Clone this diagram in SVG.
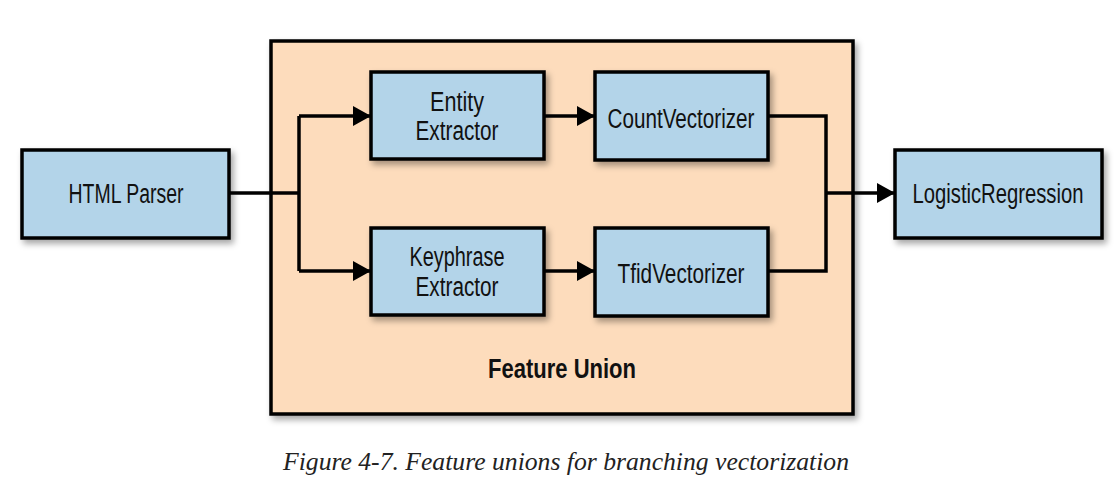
<svg xmlns="http://www.w3.org/2000/svg" width="1120" height="487" viewBox="0 0 1120 487">
<defs>
<filter id="sh" x="-10%" y="-10%" width="125%" height="130%">
<feDropShadow dx="3" dy="4" stdDeviation="3" flood-color="#000" flood-opacity="0.35"/>
</filter>
<marker id="ah" viewBox="0 0 18 20" refX="18" refY="10" markerWidth="18" markerHeight="20" markerUnits="userSpaceOnUse" orient="auto">
<path d="M0,0 L18,10 L0,20 Z" fill="#000"/>
</marker>
</defs>
<style>
.box{fill:#b3d4e9;stroke:#000;stroke-width:3.5}
.union{fill:#fddcbc;stroke:#000;stroke-width:3.5}
.lbl{font-family:"Liberation Sans",Arial,sans-serif;font-size:27px;fill:#111;text-anchor:middle}
.bold{font-weight:bold;font-size:28px}
.conn{fill:none;stroke:#000;stroke-width:3.5}
.cap{font-family:"Liberation Serif","Times New Roman",serif;font-style:italic;font-size:25px;fill:#222}
</style>
<rect width="1120" height="487" fill="#fff"/>
<g id="feature-union">
<rect class="union" x="271" y="41" width="582" height="373" filter="url(#sh)"/>
<text class="lbl bold" x="562" y="378" textLength="148" lengthAdjust="spacingAndGlyphs">Feature Union</text>
</g>
<g id="connectors">
<path class="conn" d="M229,193 H299"/>
<path class="conn" d="M299,116 V271"/>
<path class="conn" d="M299,116 H371" marker-end="url(#ah)"/>
<path class="conn" d="M299,271 H371" marker-end="url(#ah)"/>
<path class="conn" d="M544,116 H595" marker-end="url(#ah)"/>
<path class="conn" d="M544,271 H595" marker-end="url(#ah)"/>
<path class="conn" d="M768,116 H826 V271 H768"/>
<path class="conn" d="M826,193 H895" marker-end="url(#ah)"/>
</g>
<g id="html-parser">
<rect class="box" x="22" y="150" width="207" height="88" filter="url(#sh)"/>
<text class="lbl" x="126" y="203" textLength="115" lengthAdjust="spacingAndGlyphs">HTML Parser</text>
</g>
<g id="entity-extractor">
<rect class="box" x="371" y="72" width="173" height="87" filter="url(#sh)"/>
<text class="lbl" x="457" y="111" textLength="54" lengthAdjust="spacingAndGlyphs">Entity</text>
<text class="lbl" x="457" y="140" textLength="83" lengthAdjust="spacingAndGlyphs">Extractor</text>
</g>
<g id="keyphrase-extractor">
<rect class="box" x="371" y="228" width="173" height="87" filter="url(#sh)"/>
<text class="lbl" x="457" y="266" textLength="95" lengthAdjust="spacingAndGlyphs">Keyphrase</text>
<text class="lbl" x="457" y="296" textLength="83" lengthAdjust="spacingAndGlyphs">Extractor</text>
</g>
<g id="count-vectorizer">
<rect class="box" x="595" y="72" width="173" height="88" filter="url(#sh)"/>
<text class="lbl" x="681" y="128" textLength="147" lengthAdjust="spacingAndGlyphs">CountVectorizer</text>
</g>
<g id="tfid-vectorizer">
<rect class="box" x="595" y="228" width="173" height="88" filter="url(#sh)"/>
<text class="lbl" x="681" y="283" textLength="127" lengthAdjust="spacingAndGlyphs">TfidVectorizer</text>
</g>
<g id="logistic-regression">
<rect class="box" x="895" y="150" width="207" height="88" filter="url(#sh)"/>
<text class="lbl" x="998" y="203" textLength="171" lengthAdjust="spacingAndGlyphs">LogisticRegression</text>
</g>
<text class="cap" x="283" y="470" textLength="566" lengthAdjust="spacingAndGlyphs">Figure 4-7. Feature unions for branching vectorization</text>
</svg>
